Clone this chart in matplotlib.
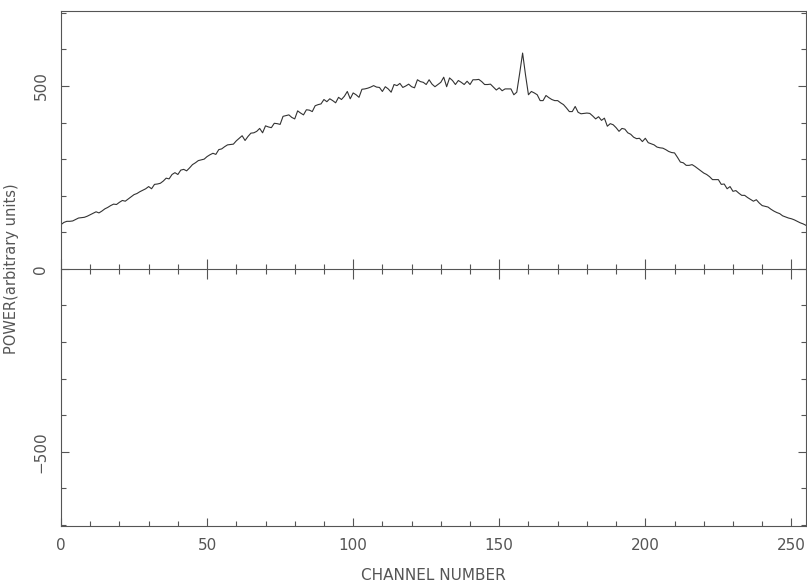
import numpy as np
import matplotlib.pyplot as plt
from matplotlib.ticker import MultipleLocator

# power spectrum, one value per channel (0..255)
channels = np.arange(256)
power = [
    121, 127, 130, 130, 131, 135, 139, 140, 141, 144, 148, 152, 156, 153, 158, 164,
    168, 173, 177, 176, 182, 187, 185, 191, 197, 203, 206, 211, 215, 219, 225, 219,
    231, 232, 234, 240, 248, 246, 258, 263, 258, 270, 272, 268, 276, 285, 290, 296,
    298, 300, 307, 312, 316, 313, 326, 328, 334, 339, 340, 341, 350, 357, 364, 351,
    362, 371, 372, 376, 384, 372, 391, 388, 386, 398, 397, 395, 417, 419, 421, 414,
    410, 432, 426, 421, 435, 434, 430, 446, 449, 451, 463, 457, 465, 460, 454, 469,
    463, 472, 485, 465, 481, 476, 469, 491, 492, 494, 497, 501, 497, 496, 485, 498,
    492, 483, 504, 501, 507, 496, 500, 505, 498, 495, 517, 512, 510, 504, 517, 505,
    498, 504, 510, 524, 498, 522, 515, 504, 515, 510, 504, 513, 504, 517, 517, 518,
    512, 504, 504, 505, 497, 489, 495, 487, 492, 492, 492, 476, 483, 535, 590, 530,
    476, 485, 481, 476, 460, 460, 474, 468, 463, 460, 460, 454, 449, 440, 430, 430,
    444, 428, 424, 425, 426, 425, 418, 410, 416, 406, 412, 390, 397, 394, 386, 376,
    384, 382, 372, 368, 360, 356, 357, 348, 357, 345, 342, 339, 333, 331, 330, 326,
    321, 318, 317, 305, 292, 290, 283, 283, 285, 280, 274, 268, 262, 258, 252, 244,
    244, 244, 231, 232, 219, 225, 212, 214, 207, 201, 201, 195, 190, 185, 189, 180,
    173, 171, 169, 163, 158, 154, 151, 145, 142, 139, 137, 134, 130, 126, 123, 119,
]

x_ticks = [0, 50, 100, 150, 200, 250]
y_ticks = [-500, 0, 500]

grey = '#555555'
plt.rcParams['font.family'] = ['DejaVu Sans']

fig = plt.figure(figsize=(8.07, 5.87), dpi=100)
ax = fig.add_axes([61 / 807, 1 - 526 / 587, 745 / 807, 515 / 587])

ax.plot(channels, power, color='#333333', linewidth=0.8)

ax.set_xlim(0, 255)
ax.set_ylim(-703, 705)
ax.set_xticks(x_ticks)
ax.set_yticks(y_ticks)
ax.set_yticklabels(['\u2212500', '0', '500'], rotation=90, va='center')
ax.xaxis.set_minor_locator(MultipleLocator(10))
ax.yaxis.set_minor_locator(MultipleLocator(100))

ax.tick_params(which='both', direction='in', top=True, right=True,
               color=grey, labelcolor=grey, labelsize=11, width=0.8)
ax.tick_params(which='major', length=6)
ax.tick_params(which='minor', length=3.5)
ax.tick_params(axis='x', pad=9)
ax.tick_params(axis='y', pad=9)
for s in ax.spines.values():
    s.set_color(grey)
    s.set_linewidth(0.8)

ax.set_xlabel('CHANNEL NUMBER', color=grey, fontsize=11)
ax.set_ylabel('POWER(arbitrary units)', color=grey, fontsize=10.5)
ax.xaxis.set_label_coords(0.5, -0.081)
ax.yaxis.set_label_coords(-0.056, 0.5)

# zero line with its own ticks crossing it
ax0 = ax.twiny()
ax0.set_xlim(ax.get_xlim())
for name, s in ax0.spines.items():
    s.set_visible(name == 'bottom')
ax0.spines['bottom'].set_position(('data', 0))
ax0.spines['bottom'].set_color(grey)
ax0.spines['bottom'].set_linewidth(0.8)
ax0.xaxis.set_ticks_position('bottom')
ax0.set_xticks(x_ticks)
ax0.xaxis.set_minor_locator(MultipleLocator(10))
ax0.tick_params(which='both', direction='inout', color=grey, width=0.8,
                labelbottom=False, labeltop=False)
ax0.tick_params(which='major', length=14)
ax0.tick_params(which='minor', length=7)

fig.savefig('out.png', dpi=100)
